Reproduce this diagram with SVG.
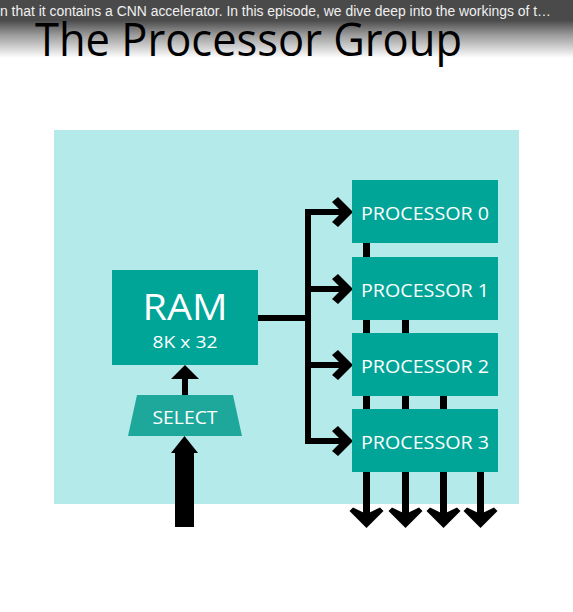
<svg xmlns="http://www.w3.org/2000/svg" width="573" height="612" viewBox="0 0 573 612">
<defs>
<linearGradient id="topfade" x1="0" y1="0" x2="0" y2="1">
<stop offset="0" stop-color="#4a4a4a"/>
<stop offset="0.35" stop-color="#4a4a4a"/>
<stop offset="0.6" stop-color="#9a9a9a"/>
<stop offset="1" stop-color="#ffffff"/>
</linearGradient>
<style>
.box{fill:#00a598}
.sel{fill:#1ea89c}
.wt{fill:#ffffff;font-family:"Open Sans","Noto Sans",sans-serif}
.pt{font-size:19px;text-anchor:middle}
.wire{stroke:#000;stroke-width:6;fill:none}
.bar{fill:#000}
</style>
</defs>
<rect width="573" height="612" fill="#ffffff"/>
<rect x="0" y="0" width="573" height="58" fill="url(#topfade)"/>
<text x="0" y="16" font-family="Liberation Sans, Arial, sans-serif" font-size="14" fill="#f0f0f0" textLength="551" lengthAdjust="spacingAndGlyphs">n that it contains a CNN accelerator. In this episode, we dive deep into the workings of t…</text>
<text x="35" y="56" font-family="Open Sans, Noto Sans, sans-serif" font-size="45" fill="#000" textLength="427" lengthAdjust="spacingAndGlyphs">The Processor Group</text>

<rect id="panel" x="54" y="130" width="465" height="374" fill="#b4eae9"/>

<g id="connectors">
<polyline class="wire" points="258,318 308,318"/>
<line class="wire" x1="308" y1="210" x2="308" y2="444"/>
<line class="wire" x1="305" y1="212" x2="346" y2="212"/>
<line class="wire" x1="305" y1="289" x2="346" y2="289"/>
<line class="wire" x1="305" y1="365" x2="346" y2="365"/>
<line class="wire" x1="305" y1="441" x2="346" y2="441"/>
<path class="bar" d="M353,212 L338,197 L332,202 L342,212 L332,222 L338,227 Z"/>
<path class="bar" d="M353,289 L338,274 L332,279 L342,289 L332,299 L338,304 Z"/>
<path class="bar" d="M353,365 L338,350 L332,355 L342,365 L332,375 L338,380 Z"/>
<path class="bar" d="M353,441 L338,426 L332,431 L342,441 L332,451 L338,456 Z"/>
<rect class="bar" x="363" y="243" width="7" height="14"/>
<rect class="bar" x="363" y="320" width="7" height="13"/>
<rect class="bar" x="402" y="320" width="7" height="13"/>
<rect class="bar" x="363" y="396" width="7" height="13"/>
<rect class="bar" x="402" y="396" width="7" height="13"/>
<rect class="bar" x="440" y="396" width="7" height="13"/>
<rect class="bar" x="363" y="472" width="7" height="42"/>
<rect class="bar" x="402" y="472" width="7" height="42"/>
<rect class="bar" x="440" y="472" width="7" height="42"/>
<rect class="bar" x="477" y="472" width="7" height="42"/>
<path class="bar" d="M366.5,528 L349.5,511 L353,507.5 L366.5,514 L380,507.5 L383.5,511 Z"/>
<path class="bar" d="M405.5,528 L388.5,511 L392,507.5 L405.5,514 L419,507.5 L422.5,511 Z"/>
<path class="bar" d="M443.5,528 L426.5,511 L430,507.5 L443.5,514 L457,507.5 L460.5,511 Z"/>
<path class="bar" d="M480.5,528 L463.5,511 L467,507.5 L480.5,514 L494,507.5 L497.5,511 Z"/>
<rect class="bar" x="182" y="375" width="6" height="20"/>
<polygon class="bar" points="185,365 171,379 199,379"/>
<rect class="bar" x="175" y="452" width="19" height="75"/>
<polygon class="bar" points="184.5,436 171,453 198,453"/>
</g>

<g id="ram">
<rect class="box" x="112" y="270" width="146" height="95"/>
<text class="wt" x="185" y="320" font-size="37" text-anchor="middle" textLength="85" lengthAdjust="spacingAndGlyphs">RAM</text>
<text class="wt" x="185" y="348" font-size="17" text-anchor="middle" textLength="65" lengthAdjust="spacingAndGlyphs">8K x 32</text>
</g>
<g id="select">
<polygon class="sel" points="137,395 233,395 242,436 128,436"/>
<text class="wt" x="185" y="424" font-size="19" text-anchor="middle" textLength="65" lengthAdjust="spacingAndGlyphs">SELECT</text>
</g>
<g id="p0">
<rect class="box" x="352" y="180" width="146" height="63"/>
<text class="wt pt" x="425" y="220" textLength="128" lengthAdjust="spacingAndGlyphs">PROCESSOR 0</text>
</g>
<g id="p1">
<rect class="box" x="352" y="257" width="146" height="63"/>
<text class="wt pt" x="425" y="297" textLength="128" lengthAdjust="spacingAndGlyphs">PROCESSOR 1</text>
</g>
<g id="p2">
<rect class="box" x="352" y="333" width="146" height="63"/>
<text class="wt pt" x="425" y="373" textLength="128" lengthAdjust="spacingAndGlyphs">PROCESSOR 2</text>
</g>
<g id="p3">
<rect class="box" x="352" y="409" width="146" height="63"/>
<text class="wt pt" x="425" y="449" textLength="128" lengthAdjust="spacingAndGlyphs">PROCESSOR 3</text>
</g>
</svg>
